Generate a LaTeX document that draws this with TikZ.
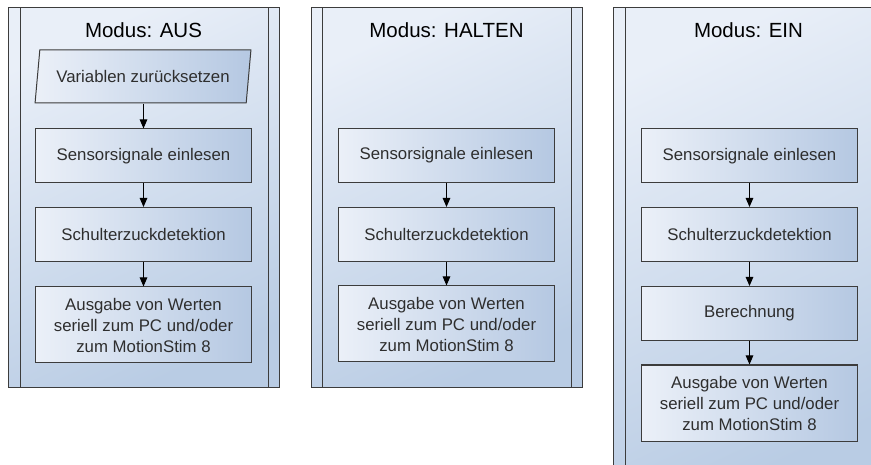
\documentclass[tikz,border=0pt]{standalone}
\usepackage{fontspec}
\setmainfont{Liberation Sans}
\usetikzlibrary{shapes.geometric,arrows.meta}
\definecolor{lineC}{HTML}{3C3C3C}
\definecolor{panelTop}{HTML}{E9EFF8}
\definecolor{panelBot}{HTML}{B9CCE4}
\definecolor{boxL}{HTML}{EBF0F8}
\definecolor{boxR}{HTML}{B5C8E2}
\definecolor{txt}{HTML}{2E2E2E}
\begin{document}
\begin{tikzpicture}[x=1pt,y=-1pt,
  panel/.style={draw=lineC, line width=1pt, top color=panelTop, bottom color=panelBot, shading angle=25},
  lane/.style={draw=lineC, line width=1pt},
  title/.style={text=black, font=\fontsize{20.5}{23}\selectfont, inner sep=0pt},
  box/.style={draw=lineC, line width=1pt, left color=boxL, right color=boxR,
    minimum width=216pt, minimum height=54pt, inner sep=2pt, align=center,
    text=txt, font=\fontsize{16.8}{21}\selectfont},
  tall/.style={box, minimum height=76pt},
  iobox/.style={box, shape=trapezium, trapezium left angle=76, trapezium right angle=104,
    trapezium stretches=true, minimum width=216pt, minimum height=53pt, left color=boxL, right color=boxR},
  arr/.style={draw=black, line width=1pt, -{Triangle[length=9pt,width=7.5pt]}}
]
\useasboundingbox (0,0) rectangle (871,465);
\clip (0,0) rectangle (871,465);

% panels
\path[panel] (8,8) rectangle (279,387);
\draw[lane] (20,8) -- (20,387) (268,8) -- (268,387);
\path[panel] (311,8) rectangle (582,387);
\draw[lane] (322,8) -- (322,387) (571,8) -- (571,387);
\path[panel] (613,8) rectangle (884,490);
\draw[lane] (625,8) -- (625,490) (873,8) -- (873,490);

% titles
\node[title] (t1) at (143.5,30) {Modus: AUS};
\node[title] (t2) at (446.5,30) {Modus: HALTEN};
\node[title] (t3) at (748.5,30) {Modus: EIN};

% panel 1
\node[iobox] (a0) at (143,76.5) {Variablen zurücksetzen};
\node[box] (a1) at (143.5,156) {Sensorsignale einlesen};
\node[box] (a2) at (143.5,234.5) {Schulterzuckdetektion};
\node[tall] (a3) at (143.5,325) {Ausgabe von Werten\\seriell zum PC und/oder\\zum MotionStim 8};
\draw[arr] (a0.south -| a1.north) -- (a1.north);
\draw[arr] (a1) -- (a2);
\draw[arr] (a2) -- (a3);

% panel 2
\node[box] (b1) at (446.5,155.5) {Sensorsignale einlesen};
\node[box] (b2) at (446.5,234.5) {Schulterzuckdetektion};
\node[tall] (b3) at (446.5,324) {Ausgabe von Werten\\seriell zum PC und/oder\\zum MotionStim 8};
\draw[arr] (b1) -- (b2);
\draw[arr] (b2) -- (b3);

% panel 3
\node[box] (c1) at (749.5,156) {Sensorsignale einlesen};
\node[box] (c2) at (749.5,234.5) {Schulterzuckdetektion};
\node[box] (c3) at (749.5,313.5) {Berechnung};
\node[tall] (c4) at (749.5,403) {Ausgabe von Werten\\seriell zum PC und/oder\\zum MotionStim 8};
\draw[arr] (c1) -- (c2);
\draw[arr] (c2) -- (c3);
\draw[arr] (c3) -- (c4);
\end{tikzpicture}
\end{document}
